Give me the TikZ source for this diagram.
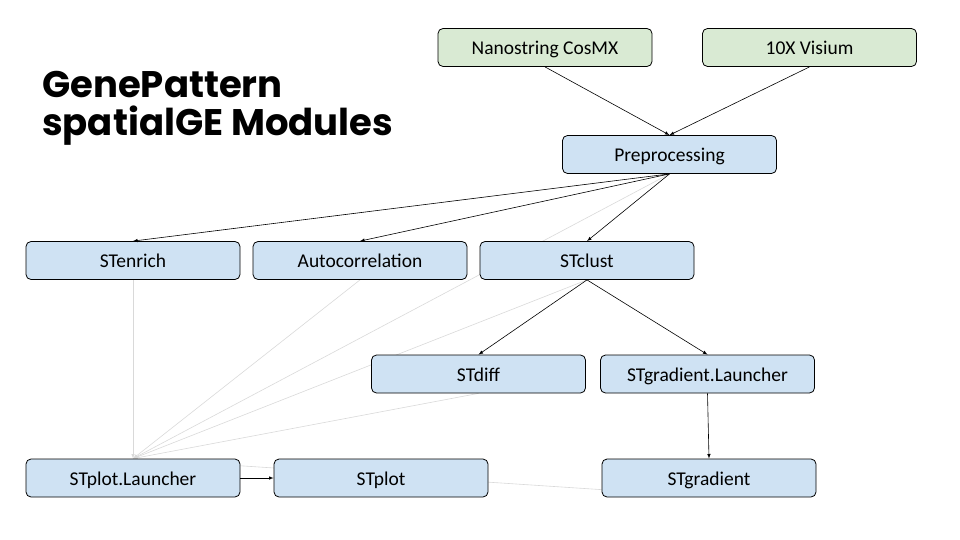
\documentclass[tikz,border=0pt]{standalone}
\usepackage{fontspec}
\setmainfont{Carlito}
\newfontfamily\titlefont{Poppins}
\usepackage{tikz}
\usetikzlibrary{calc, backgrounds}

\definecolor{modBlue}{HTML}{CFE2F3}
\definecolor{srcGreen}{HTML}{D9EAD3}
\definecolor{faintGrey}{HTML}{D9D9D9}

\begin{document}
\begin{tikzpicture}[
	x=1pt, y=-1pt,
	module/.style={draw, rounded corners=5pt, fill=modBlue, line width=.8pt, minimum width=214pt, minimum height=38pt, text height=15pt, text depth=1pt, font=\fontsize{19.5}{22}\selectfont},
	source/.style={module, fill=srcGreen},
	arrow/.style={-latex, line width=.6pt},
	faint/.style={-latex, faintGrey, line width=.6pt}
	]

	\useasboundingbox (0,0) rectangle (960,540);

	% Title
	\node[anchor=north west, align=left, inner sep=0pt, font=\titlefont\bfseries\fontsize{37}{38}\selectfont] (title) at (42,71) {GenePattern\\spatialGE Modules};

	% Inputs
	\node[source] (cosmx) at (545,47.5) {Nanostring CosMX};
	\node[source] (visium) at (809.5,47.5) {10X Visium};
	\node[module] (prep) at (669.5,154.5) {Preprocessing};

	% Modules
	\node[module] (enrich) at (133,260.5) {STenrich};
	\node[module] (autocor) at (360,260.5) {Autocorrelation};
	\node[module] (clust) at (587,260.5) {STclust};
	\node[module] (diff) at (478.5,374) {STdiff};
	\node[module] (gradL) at (707.5,374) {STgradient.Launcher};
	\node[module] (plotL) at (133,478) {STplot.Launcher};
	\node[module] (plot) at (381,478) {STplot};
	\node[module] (grad) at (709,478) {STgradient};

	\draw[arrow] (cosmx.south) -- (prep.north);
	\draw[arrow] (visium.south) -- (prep.north);
	\draw[arrow] (prep.south) -- (enrich.north);
	\draw[arrow] (prep.south) -- (autocor.north);
	\draw[arrow] (prep.south) -- (clust.north);
	\draw[arrow] (clust.south) -- (diff.north);
	\draw[arrow] (clust.south) -- (gradL.north);
	\draw[arrow] (gradL.south) -- (grad.north);
	\draw[arrow] (plotL.east) -- (plot.west);

	% STplot.Launcher inputs
	\begin{scope}[on background layer]
		\draw[faint] (enrich.south) -- (plotL.north);
		\draw[faint] (autocor.south) -- (plotL.north);
		\draw[faint] (prep.south) -- (plotL.north);
		\draw[faint] (clust.south) -- (plotL.north);
		\draw[faint] (diff.south) -- (plotL.north);
		\draw[faintGrey, line width=.6pt] ($(grad.west)!.6!(grad.south west)$) -- ($(plotL.north east)!.37!(plotL.east)$);
	\end{scope}
\end{tikzpicture}
\end{document}
